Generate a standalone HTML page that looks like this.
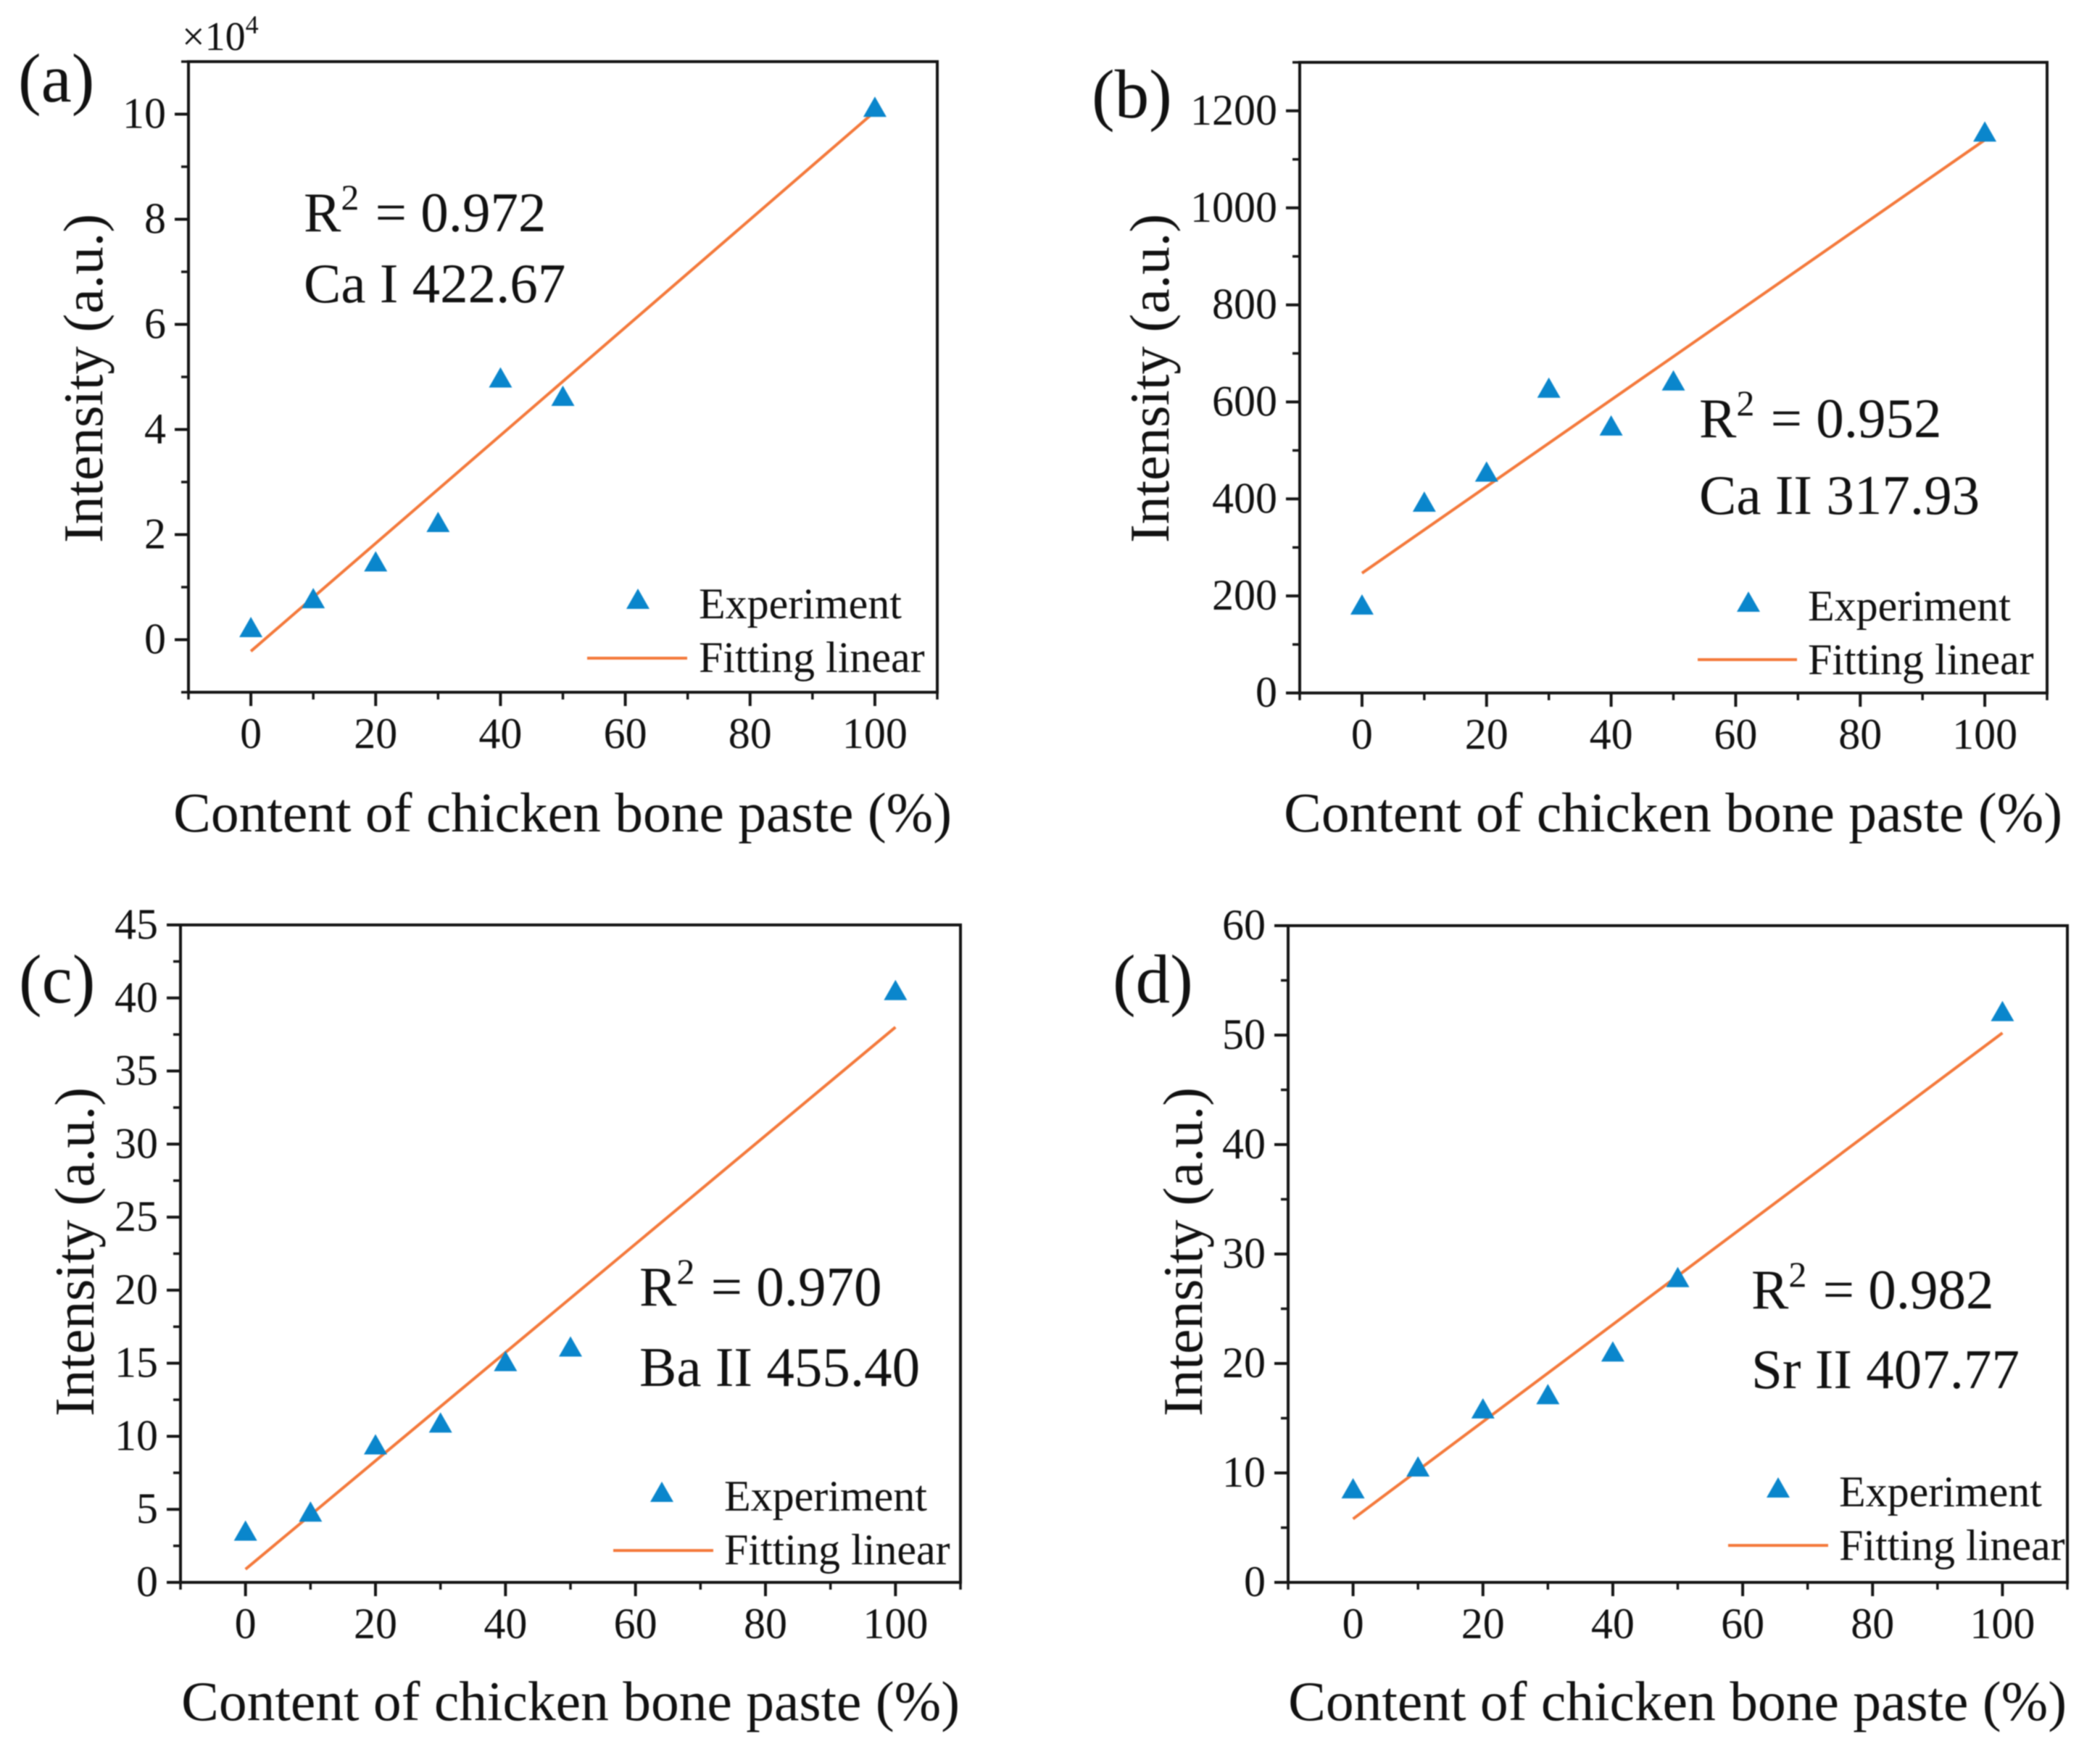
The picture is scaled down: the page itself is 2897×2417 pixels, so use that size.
<!DOCTYPE html>
<html>
<head>
<meta charset="utf-8">
<title>Calibration curves</title>
<style>
html,body{margin:0;padding:0;background:#fff;}
svg{display:block;filter:blur(0.9px);}
text{font-family:"Liberation Serif",serif;fill:#111;}
</style>
</head>
<body>
<svg id="figure" xmlns="http://www.w3.org/2000/svg" width="2897" height="2417" viewBox="0 0 2897 2417"></svg>
<script>
const contentPct = [0, 10, 20, 30, 40, 50, 100];
const xTicks = [0, 20, 40, 60, 80, 100];
const xMinor = [-10, 10, 30, 50, 70, 90, 110];
const fitX = [0, 100];

const seriesA = [0.2, 0.75, 1.45, 2.2, 4.95, 4.6, 10.1];
const fitA = [-0.22, 10.05];
const yTicksA = [0, 2, 4, 6, 8, 10];
const yMinorA = [-1, 1, 3, 5, 7, 9, 11];

const seriesB = [178, 390, 452, 625, 547, 640, 1153];
const fitB = [247, 1140];
const yTicksB = [0, 200, 400, 600, 800, 1000, 1200];
const yMinorB = [100, 300, 500, 700, 900, 1100, 1300];

const seriesC = [3.4, 4.7, 9.3, 10.8, 15, 16, 40.4];
const fitC = [0.9, 38];
const yTicksC = [0, 5, 10, 15, 20, 25, 30, 35, 40, 45];
const yMinorC = [2.5, 7.5, 12.5, 17.5, 22.5, 27.5, 32.5, 37.5, 42.5];

const seriesD = [8.4, 10.4, 15.7, 17, 20.9, 27.7, 52];
const fitD = [5.8, 50.2];
const yTicksD = [0, 10, 20, 30, 40, 50, 60];
const yMinorD = [5, 15, 25, 35, 45, 55];

const NS = 'http://www.w3.org/2000/svg';
const root = document.getElementById('figure');
const BLUE = '#0a86cc';
const ORANGE = '#f4793b';
const AXIS = '#151515';

function shape(tag, attrs, parent) {
  const el = document.createElementNS(NS, tag);
  for (const k in attrs) el.setAttribute(k, attrs[k]);
  parent.appendChild(el);
  return el;
}
function label(str, x, y, size, parent, anchor, extra) {
  const el = shape('text', Object.assign({x: x, y: y, 'font-size': size, 'text-anchor': anchor || 'start'}, extra || {}), parent);
  el.textContent = str;
  return el;
}
function triangle(cx, cy, parent) {
  return shape('polygon', {points: (cx - 16) + ',' + (cy + 11) + ' ' + (cx + 16) + ',' + (cy + 11) + ' ' + cx + ',' + (cy - 17), fill: BLUE}, parent);
}

function drawPanel(p) {
  const g = shape('g', {}, root);
  
  

  const sx = function (v) { return p.left + (v - p.xMin) / (p.xMax - p.xMin) * (p.right - p.left); };
  const sy = function (v) { return p.bottom - (v - p.yMin) / (p.yMax - p.yMin) * (p.bottom - p.top); };

  const frame = shape('rect', {x: p.left, y: p.top, width: p.right - p.left, height: p.bottom - p.top, fill: 'none', stroke: AXIS, 'stroke-width': 4}, g);
  
  

  xTicks.forEach(function (v) {
    const t = shape('line', {x1: sx(v), x2: sx(v), y1: p.bottom, y2: p.bottom + 19, stroke: AXIS, 'stroke-width': 4}, g);
    
    
    const l = label(String(v), sx(v), p.bottom + 77, 60, g, 'middle');
    
    
  });
  xMinor.forEach(function (v) {
    const t = shape('line', {x1: sx(v), x2: sx(v), y1: p.bottom, y2: p.bottom + 10, stroke: AXIS, 'stroke-width': 3.5}, g);
    
    
  });
  p.yTicks.forEach(function (v) {
    const t = shape('line', {x1: p.left - 19, x2: p.left, y1: sy(v), y2: sy(v), stroke: AXIS, 'stroke-width': 4}, g);
    
    
    const l = label(String(v), p.left - 31, sy(v) + 19, 60, g, 'end');
    
    
  });
  p.yMinor.forEach(function (v) {
    const t = shape('line', {x1: p.left - 10, x2: p.left, y1: sy(v), y2: sy(v), stroke: AXIS, 'stroke-width': 3.5}, g);
    
    
  });

  const fit = shape('line', {x1: sx(fitX[0]), y1: sy(p.fit[0]), x2: sx(fitX[1]), y2: sy(p.fit[1]), stroke: ORANGE, 'stroke-width': 4}, g);
  
  

  contentPct.forEach(function (x, i) {
    const m = triangle(sx(x), sy(p.series[i]), g);
    
    
  });

  const xt = label('Content of chicken bone paste (%)', p.xTitleEnd, p.xTitleY, 77.5, g, 'end');
  
  

  const yt = label('Intensity (a.u.)', 0, 0, 77.5, g, 'middle', {transform: 'translate(' + p.yTitleX + ' ' + p.yTitleY + ') rotate(-90)'});
  
  

  const pl = label('(' + p.id + ')', p.tagX, p.tagY, 95, g);
  
  

  const r = label('R', p.noteX, p.noteY1, 77, g);
  const rs = document.createElementNS(NS, 'tspan');
  rs.setAttribute('font-size', '50');
  rs.setAttribute('dy', '-30');
  rs.textContent = '2';
  r.appendChild(rs);
  const rv = document.createElementNS(NS, 'tspan');
  rv.setAttribute('dy', '30');
  rv.setAttribute('dx', '3');
  rv.textContent = ' = ' + p.r2;
  r.appendChild(rv);
  
  

  const ln = label(p.emission, p.noteX, p.noteY2, 77, g);
  
  

  const lm = triangle(p.legTriX, p.legTriY, g);
  
  
  const l1 = label('Experiment', p.legTextX, p.legY1, 60, g);
  
  
  const ll = shape('line', {x1: p.legLine0, x2: p.legLine1, y1: p.legLineY, y2: p.legLineY, stroke: ORANGE, 'stroke-width': 4}, g);
  
  
  const l2 = label('Fitting linear', p.legTextX, p.legY2, 60, g);
  
  
}

drawPanel({id: 'a', left: 260, right: 1293, top: 85, bottom: 955, xMin: -10, xMax: 110, yMin: -1, yMax: 11,
  series: seriesA, fit: fitA, yTicks: yTicksA, yMinor: yMinorA,
  xTitleEnd: 1313, xTitleY: 1147, yTitleX: 141, yTitleY: 522, tagX: 25, tagY: 140,
  noteX: 419, noteY1: 319, noteY2: 417, r2: '0.972', emission: 'Ca I 422.67',
  legTriX: 880, legTriY: 829, legTextX: 964, legY1: 853, legY2: 927, legLine0: 810, legLine1: 948, legLineY: 908});

drawPanel({id: 'b', left: 1793, right: 2824, top: 86, bottom: 956, xMin: -10, xMax: 110, yMin: 0, yMax: 1300,
  series: seriesB, fit: fitB, yTicks: yTicksB, yMinor: yMinorB,
  xTitleEnd: 2845, xTitleY: 1147, yTitleX: 1612, yTitleY: 522, tagX: 1506, tagY: 162,
  noteX: 2344, noteY1: 603, noteY2: 709, r2: '0.952', emission: 'Ca II 317.93',
  legTriX: 2412, legTriY: 833, legTextX: 2494, legY1: 856, legY2: 930, legLine0: 2342, legLine1: 2479, legLineY: 910});

drawPanel({id: 'c', left: 249, right: 1325, top: 1276, bottom: 2183, xMin: -10, xMax: 110, yMin: 0, yMax: 45,
  series: seriesC, fit: fitC, yTicks: yTicksC, yMinor: yMinorC,
  xTitleEnd: 1324, xTitleY: 2373, yTitleX: 129, yTitleY: 1727, tagX: 26, tagY: 1383,
  noteX: 882, noteY1: 1801, noteY2: 1912, r2: '0.970', emission: 'Ba II 455.40',
  legTriX: 913, legTriY: 2061, legTextX: 999, legY1: 2084, legY2: 2158, legLine0: 846, legLine1: 984, legLineY: 2139});

drawPanel({id: 'd', left: 1777, right: 2852, top: 1277, bottom: 2183, xMin: -10, xMax: 110, yMin: 0, yMax: 60,
  series: seriesD, fit: fitD, yTicks: yTicksD, yMinor: yMinorD,
  xTitleEnd: 2851, xTitleY: 2373, yTitleX: 1658, yTitleY: 1727, tagX: 1535, tagY: 1383,
  noteX: 2416, noteY1: 1805, noteY2: 1915, r2: '0.982', emission: 'Sr II 407.77',
  legTriX: 2453, legTriY: 2055, legTextX: 2537, legY1: 2078, legY2: 2152, legLine0: 2384, legLine1: 2522, legLineY: 2132});

const mult = label('×10', 251, 69, 56, root);


const multExp = document.createElementNS(NS, 'tspan');
multExp.setAttribute('font-size', '36');
multExp.setAttribute('dy', '-23');
multExp.textContent = '4';
mult.appendChild(multExp);
</script>
</body>
</html>
